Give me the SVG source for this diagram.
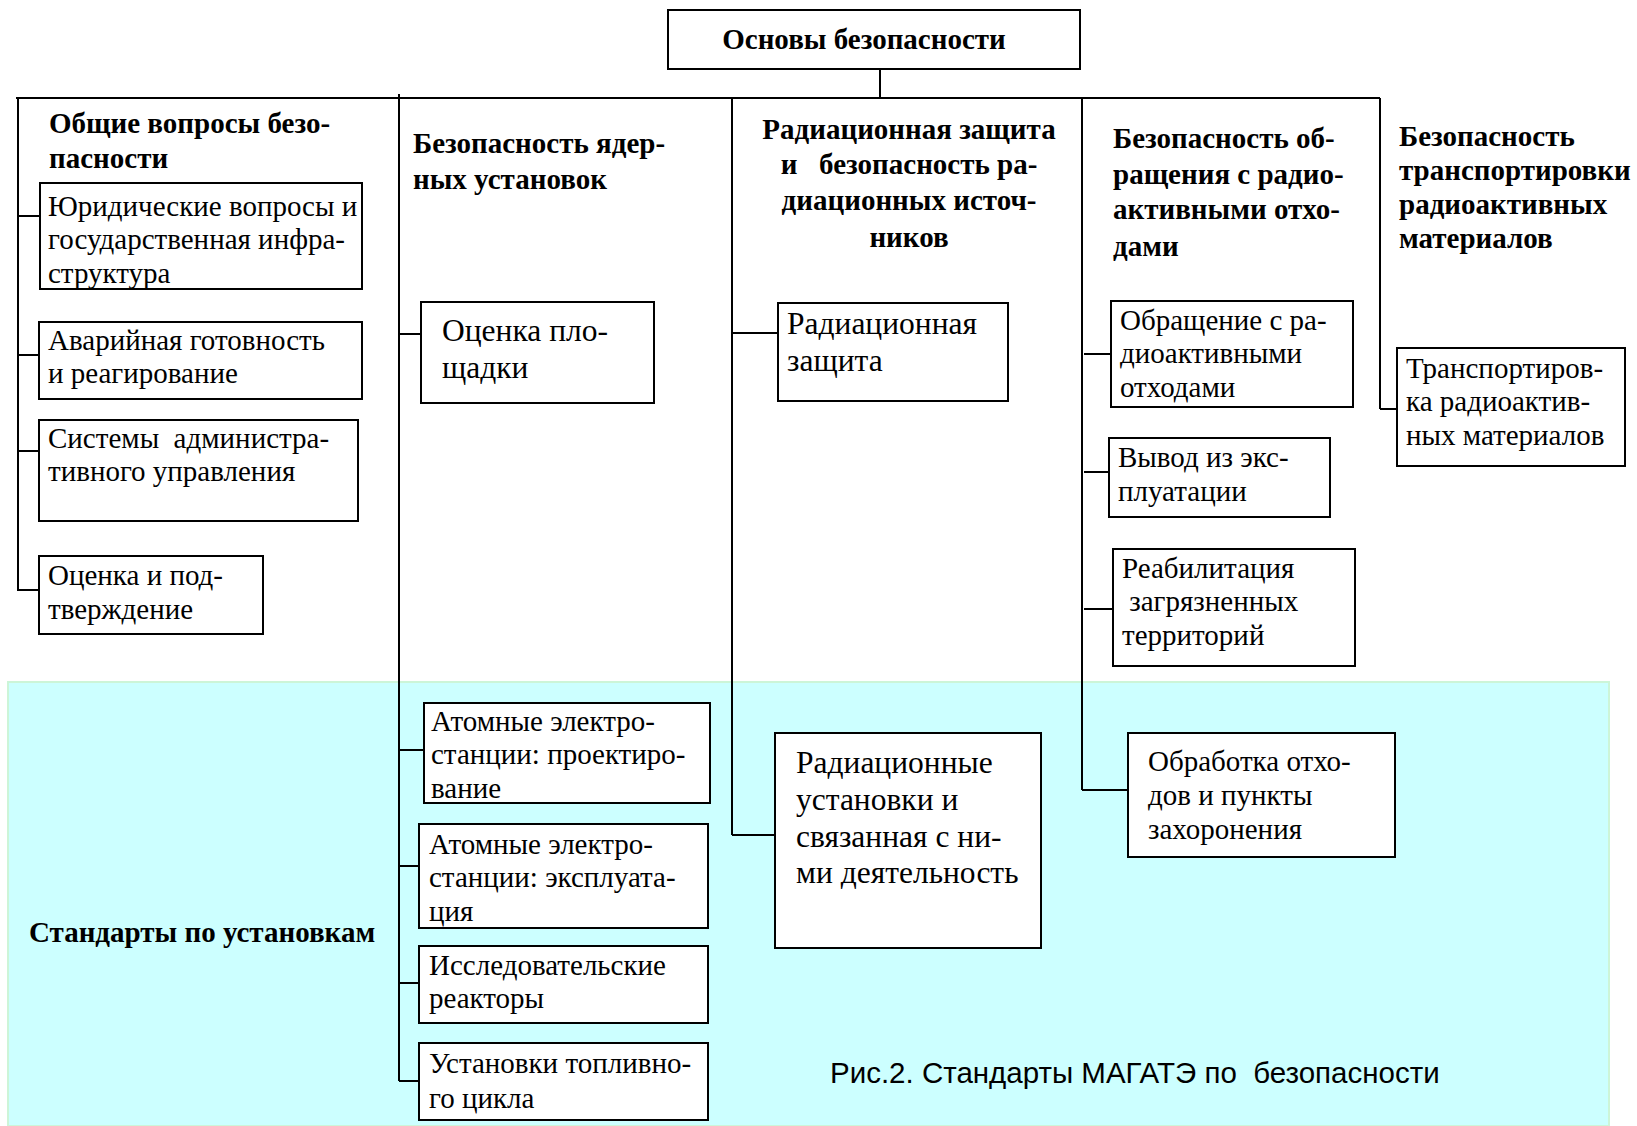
<svg xmlns="http://www.w3.org/2000/svg" width="1637" height="1126" viewBox="0 0 1637 1126">
<style>
text{white-space:pre}
.bx{fill:#fff;stroke:#000;stroke-width:2}
.ln{stroke:#000;stroke-width:2;fill:none}
.t{font-family:"Liberation Serif","Times New Roman",serif;font-size:29px;fill:#000}
.tl{font-family:"Liberation Serif","Times New Roman",serif;font-size:31.5px;fill:#000}
.h{font-family:"Liberation Serif","Times New Roman",serif;font-size:29px;font-weight:bold;fill:#000}
.cap{font-family:"Liberation Sans",Arial,sans-serif;font-size:29.5px;fill:#000}
</style>
<rect x="0" y="0" width="1637" height="1126" fill="#fff"/>
<rect x="8" y="682" width="1601" height="444" fill="#CCFFFF" stroke="#CCF5D8" stroke-width="2"/>
<g id="connectors">
<path class="ln" d="M880,69V98M16,98H1380"/>
<path class="ln" d="M18,98V591M18,216H40M18,355H39M18,451H39M18,590H39"/>
<path class="ln" d="M399,94V1081M399,334H421M399,750H424M399,866H419M399,983H419M399,1081H419"/>
<path class="ln" d="M732,98V835M732,333H778M732,835H775"/>
<path class="ln" d="M1082,98V790M1084,354H1111M1084,472H1109M1084,609H1113M1082,790H1128"/>
<path class="ln" d="M1380,98V409M1380,409H1397"/>
</g>
<g id="root"><rect class="bx" x="668" y="10" width="412" height="59"/><text class="h" x="864" y="49" text-anchor="middle">Основы безопасности</text></g>
<g id="h1"><text class="h" x="49" y="133">Общие вопросы безо-</text><text class="h" x="49" y="168">пасности</text></g>
<g id="h2"><text class="h" x="413" y="153">Безопасность ядер-</text><text class="h" x="413" y="189">ных установок</text></g>
<g id="h3"><text class="h" text-anchor="middle"><tspan x="909" y="139">Радиационная защита</tspan><tspan x="909" y="174">и   безопасность ра-</tspan><tspan x="909" y="210">диационных источ-</tspan><tspan x="909" y="247">ников</tspan></text></g>
<g id="h4"><text class="h"><tspan x="1113" y="148">Безопасность об-</tspan><tspan x="1113" y="184">ращения с радио-</tspan><tspan x="1113" y="219">активными отхо-</tspan><tspan x="1113" y="256">дами</tspan></text></g>
<g id="h5"><text class="h"><tspan x="1399" y="146">Безопасность</tspan><tspan x="1399" y="180">транспортировки</tspan><tspan x="1399" y="214">радиоактивных</tspan><tspan x="1399" y="248">материалов</tspan></text></g>
<g id="n1"><rect class="bx" x="40" y="183" width="322" height="106"/><text class="t"><tspan x="48" y="216">Юридические вопросы и</tspan><tspan x="48" y="249">государственная инфра-</tspan><tspan x="48" y="283">структура</tspan></text></g>
<g id="n2"><rect class="bx" x="39" y="322" width="323" height="77"/><text class="t"><tspan x="48" y="350">Аварийная готовность</tspan><tspan x="48" y="383">и реагирование</tspan></text></g>
<g id="n3"><rect class="bx" x="39" y="420" width="319" height="101"/><text class="t"><tspan x="48" y="448">Системы  администра-</tspan><tspan x="48" y="481">тивного управления</tspan></text></g>
<g id="n4"><rect class="bx" x="39" y="556" width="224" height="78"/><text class="t"><tspan x="48" y="585">Оценка и под-</tspan><tspan x="48" y="619">тверждение</tspan></text></g>
<g id="n5"><rect class="bx" x="421" y="302" width="233" height="101"/><text class="tl"><tspan x="442" y="341">Оценка пло-</tspan><tspan x="442" y="378">щадки</tspan></text></g>
<g id="n6"><rect class="bx" x="424" y="703" width="286" height="100"/><text class="t"><tspan x="431" y="731">Атомные электро-</tspan><tspan x="431" y="764">станции: проектиро-</tspan><tspan x="431" y="798">вание</tspan></text></g>
<g id="n7"><rect class="bx" x="419" y="824" width="289" height="104"/><text class="t"><tspan x="429" y="854">Атомные электро-</tspan><tspan x="429" y="887">станции: эксплуата-</tspan><tspan x="429" y="921">ция</tspan></text></g>
<g id="n8"><rect class="bx" x="419" y="946" width="289" height="77"/><text class="t"><tspan x="429" y="975">Исследовательские</tspan><tspan x="429" y="1008">реакторы</tspan></text></g>
<g id="n9"><rect class="bx" x="419" y="1043" width="289" height="77"/><text class="t"><tspan x="429" y="1073">Установки топливно-</tspan><tspan x="429" y="1108">го цикла</tspan></text></g>
<g id="n10"><rect class="bx" x="778" y="303" width="230" height="98"/><text class="tl"><tspan x="787" y="334">Радиационная</tspan><tspan x="787" y="371">защита</tspan></text></g>
<g id="n11"><rect class="bx" x="775" y="733" width="266" height="215"/><text class="tl"><tspan x="796" y="773">Радиационные</tspan><tspan x="796" y="810">установки и</tspan><tspan x="796" y="847">связанная с ни-</tspan><tspan x="796" y="883">ми деятельность</tspan></text></g>
<g id="n12"><rect class="bx" x="1111" y="301" width="242" height="106"/><text class="t"><tspan x="1120" y="330">Обращение с ра-</tspan><tspan x="1120" y="363">диоактивными</tspan><tspan x="1120" y="397">отходами</tspan></text></g>
<g id="n13"><rect class="bx" x="1109" y="438" width="221" height="79"/><text class="t"><tspan x="1118" y="467">Вывод из экс-</tspan><tspan x="1118" y="501">плуатации</tspan></text></g>
<g id="n14"><rect class="bx" x="1113" y="549" width="242" height="117"/><text class="t"><tspan x="1122" y="578">Реабилитация</tspan><tspan x="1122" y="611"> загрязненных</tspan><tspan x="1122" y="645">территорий</tspan></text></g>
<g id="n15"><rect class="bx" x="1128" y="733" width="267" height="124"/><text class="t"><tspan x="1148" y="771">Обработка отхо-</tspan><tspan x="1148" y="805">дов и пункты</tspan><tspan x="1148" y="839">захоронения</tspan></text></g>
<g id="n16"><rect class="bx" x="1397" y="348" width="228" height="118"/><text class="t"><tspan x="1406" y="378">Транспортиров-</tspan><tspan x="1406" y="411">ка радиоактив-</tspan><tspan x="1406" y="445">ных материалов</tspan></text></g>
<g id="lbl"><text class="h" x="29" y="942">Стандарты по установкам</text></g>
<g id="caption"><text class="cap" x="830" y="1083">Рис.2. Стандарты МАГАТЭ по  безопасности</text></g>
</svg>
